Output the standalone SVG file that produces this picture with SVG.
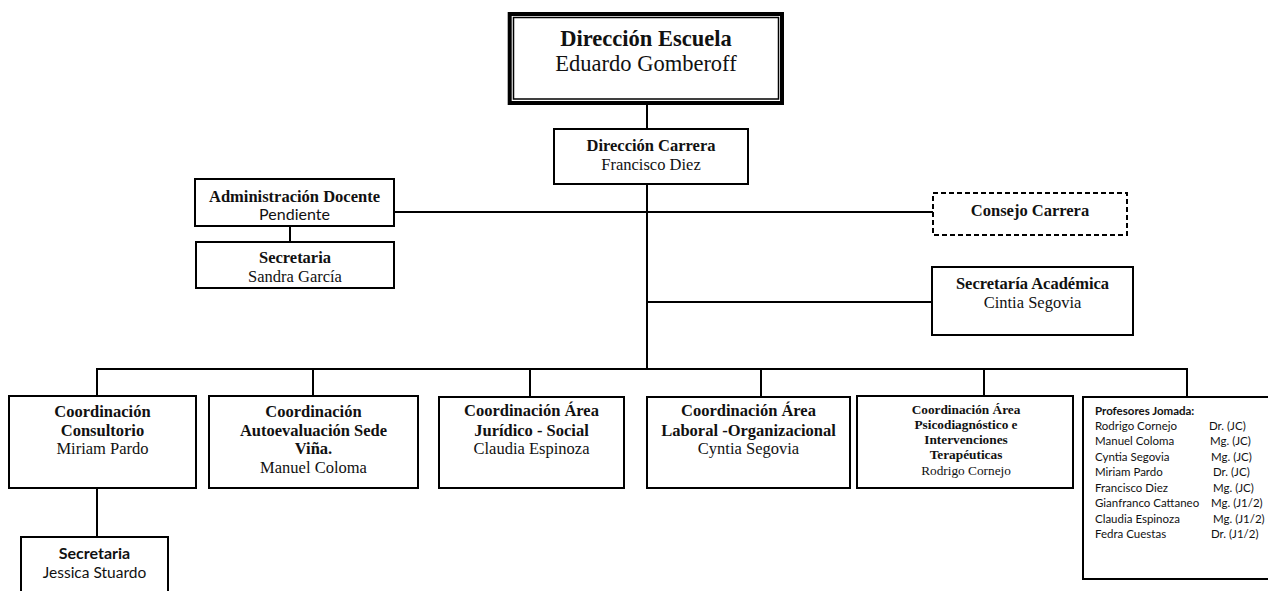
<svg xmlns="http://www.w3.org/2000/svg" width="1268" height="591" viewBox="0 0 1268 591">
<style>
.box{fill:#fff;stroke:#000;stroke-width:2}
.dash{fill:#fff;stroke:#000;stroke-width:2;stroke-dasharray:5 3}
.ln{stroke:#000;stroke-width:2;fill:none}
.sb{font-family:"Liberation Serif",serif;font-weight:bold;font-size:16.5px;fill:#111;text-anchor:middle}
.sr{font-family:"Liberation Serif",serif;font-size:16.5px;fill:#111;text-anchor:middle}
.ss{font-family:"Lato","Liberation Sans",sans-serif;font-size:15.5px;fill:#111;text-anchor:middle}
.ssb{font-family:"Lato","Liberation Sans",sans-serif;font-weight:bold;font-size:16px;fill:#111;text-anchor:middle}
.small{font-size:13.3px}
.pl{font-family:"Lato","Liberation Sans",sans-serif;font-size:11.5px;fill:#111}
.plb{font-family:"Lato","Liberation Sans",sans-serif;font-size:11.5px;font-weight:bold;fill:#111}
</style>
<rect width="1268" height="591" fill="#fff"/>
<g id="connectors">
<line class="ln" x1="647" y1="105" x2="647" y2="129"/>
<line class="ln" x1="647" y1="184" x2="647" y2="369"/>
<line class="ln" x1="394" y1="212" x2="933" y2="212"/>
<line class="ln" x1="647" y1="302" x2="932" y2="302"/>
<line class="ln" x1="96" y1="369" x2="1188" y2="369"/>
<line class="ln" x1="97" y1="369" x2="97" y2="396"/>
<line class="ln" x1="313" y1="369" x2="313" y2="396"/>
<line class="ln" x1="530" y1="369" x2="530" y2="397"/>
<line class="ln" x1="761" y1="369" x2="761" y2="397"/>
<line class="ln" x1="984" y1="369" x2="984" y2="396"/>
<line class="ln" x1="1187" y1="369" x2="1187" y2="397"/>
<line class="ln" x1="290" y1="226" x2="290" y2="242"/>
<line class="ln" x1="97" y1="488" x2="97" y2="537"/>
</g>
<g id="direccion-escuela">
<rect x="509.7" y="14" width="272.3" height="89" fill="#fff" stroke="#000" stroke-width="4"/>
<rect x="513.5" y="17.5" width="265" height="81.5" fill="none" stroke="#000" stroke-width="1.5"/>
<text class="sb" x="646" y="45.5" style="font-size:22.5px">Dirección Escuela</text>
<text class="sr" x="646" y="71" style="font-size:22.5px">Eduardo Gomberoff</text>
</g>
<g id="direccion-carrera">
<rect class="box" x="554" y="129" width="194" height="55"/>
<text class="sb" x="651" y="150.5">Dirección Carrera</text>
<text class="sr" x="651" y="170">Francisco Diez</text>
</g>
<g id="administracion-docente">
<rect class="box" x="195" y="179" width="199" height="47"/>
<text class="sb" x="294.5" y="201.5">Administración Docente</text>
<text class="ss" x="294.5" y="220" style="font-size:16px">Pendiente</text>
</g>
<g id="secretaria-garcia">
<rect class="box" x="196" y="242" width="198" height="46"/>
<text class="sb" x="295" y="263">Secretaria</text>
<text class="sr" x="295" y="282">Sandra García</text>
</g>
<g id="consejo-carrera">
<rect class="dash" x="933" y="193" width="194" height="42"/>
<text class="sb" x="1030" y="215.5">Consejo Carrera</text>
</g>
<g id="secretaria-academica">
<rect class="box" x="932" y="267" width="201" height="68"/>
<text class="sb" x="1032.5" y="289">Secretaría Académica</text>
<text class="sr" x="1032.5" y="308">Cintia Segovia</text>
</g>
<g id="coord-consultorio">
<rect class="box" x="9" y="396" width="187" height="92"/>
<text class="sb" x="102.5" y="416.5">Coordinación</text>
<text class="sb" x="102.5" y="435.5">Consultorio</text>
<text class="sr" x="102.5" y="454">Miriam Pardo</text>
</g>
<g id="coord-autoevaluacion">
<rect class="box" x="209" y="396" width="209" height="92"/>
<text class="sb" x="313.5" y="416.5">Coordinación</text>
<text class="sb" x="313.5" y="435.5">Autoevaluación Sede</text>
<text class="sb" x="313.5" y="454">Viña.</text>
<text class="sr" x="313.5" y="473">Manuel Coloma</text>
</g>
<g id="coord-juridico">
<rect class="box" x="439" y="397" width="185" height="91"/>
<text class="sb" x="531.5" y="416">Coordinación Área</text>
<text class="sb" x="531.5" y="435.5">Jurídico - Social</text>
<text class="sr" x="531.5" y="454">Claudia Espinoza</text>
</g>
<g id="coord-laboral">
<rect class="box" x="647" y="397" width="203" height="91"/>
<text class="sb" x="748.5" y="416">Coordinación Área</text>
<text class="sb" x="748.5" y="435.5">Laboral -Organizacional</text>
<text class="sr" x="748.5" y="454">Cyntia Segovia</text>
</g>
<g id="coord-psicodiagnostico">
<rect class="box" x="857" y="396" width="216" height="92"/>
<text class="sb small" x="966" y="414">Coordinación Área</text>
<text class="sb small" x="966" y="429.3">Psicodiagnóstico e</text>
<text class="sb small" x="966" y="444.3">Intervenciones</text>
<text class="sb small" x="966" y="459">Terapéuticas</text>
<text class="sr small" x="966" y="475">Rodrigo Cornejo</text>
</g>
<g id="profesores-jornada">
<rect class="box" x="1083" y="397" width="190" height="182"/>
<text class="plb" x="1095" y="415">Profesores Jomada:</text>
<text class="pl" x="1095" y="429.5">Rodrigo Cornejo</text>
<text class="pl" x="1095" y="445">Manuel Coloma</text>
<text class="pl" x="1095" y="460.5">Cyntia Segovia</text>
<text class="pl" x="1095" y="476">Miriam Pardo</text>
<text class="pl" x="1095" y="491.5">Francisco Diez</text>
<text class="pl" x="1095" y="507">Gianfranco Cattaneo</text>
<text class="pl" x="1095" y="522.5">Claudia Espinoza</text>
<text class="pl" x="1095" y="538">Fedra Cuestas</text>
<text class="pl" x="1209" y="429.5">Dr. (JC)</text>
<text class="pl" x="1210" y="445">Mg. (JC)</text>
<text class="pl" x="1211" y="460.5">Mg. (JC)</text>
<text class="pl" x="1213" y="476">Dr. (JC)</text>
<text class="pl" x="1213" y="491.5">Mg. (JC)</text>
<text class="pl" x="1211" y="507">Mg. (J1/2)</text>
<text class="pl" x="1213" y="522.5">Mg. (J1/2)</text>
<text class="pl" x="1211" y="538">Dr. (J1/2)</text>
</g>
<g id="secretaria-stuardo">
<rect class="box" x="21" y="537" width="147" height="70"/>
<text class="ssb" x="94.5" y="559">Secretaria</text>
<text class="ss" x="94.5" y="578">Jessica Stuardo</text>
</g>
</svg>
